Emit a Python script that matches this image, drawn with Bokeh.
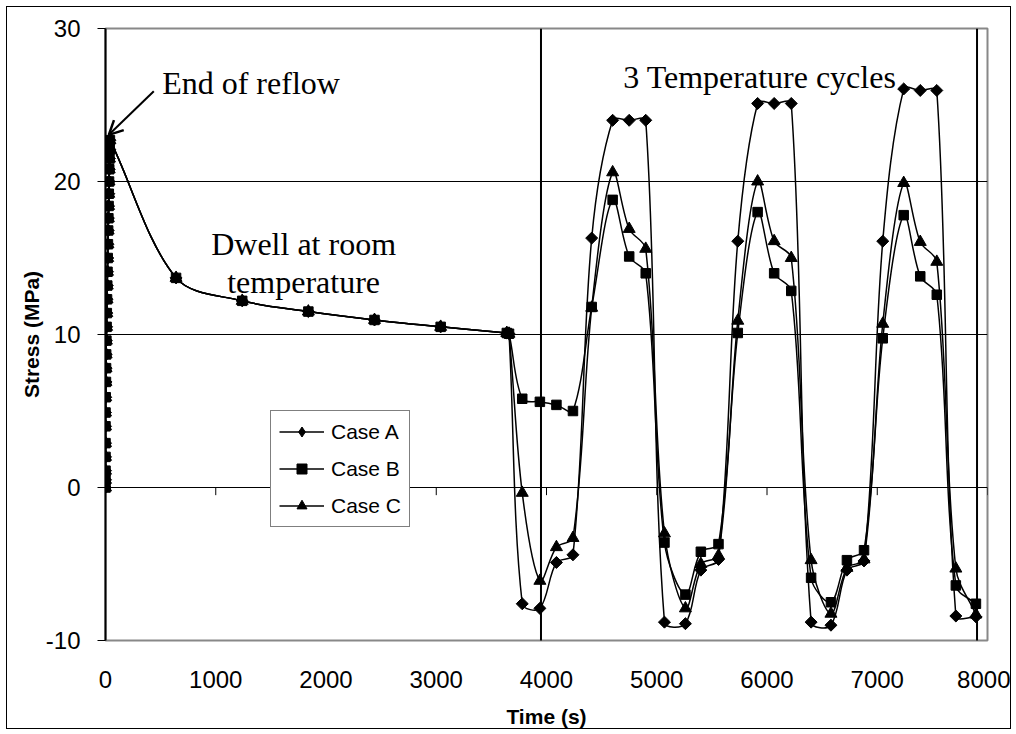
import numpy as np
from bokeh.plotting import figure
from bokeh.models import (Legend, LegendItem, Label, Arrow, OpenHead, FixedTicker,
                          ColumnDataSource, Range1d)
from bokeh.embed import file_html
from bokeh.resources import INLINE

# ---------------- data ----------------
reflow_time = [0, 0, 0, 0, 0, 0, 0, 2, 4, 5, 6, 8, 10, 12, 14, 16, 18, 20, 22, 24,
               26, 28, 30, 32, 34, 36, 38, 40]
reflow_stress = [0.0, 0.5, 1.1, 2.0, 2.9, 4.0, 4.9, 5.9, 6.9, 7.8, 8.7, 9.6, 10.5, 11.4,
                 12.3, 13.2, 14.1, 15.0, 15.9, 16.8, 17.6, 18.4, 19.2, 20.0, 20.8, 21.5,
                 22.1, 22.7]
dwell_time = [640, 1240, 1840, 2440, 3040, 3640, 3660]
dwell_stress = [13.7, 12.2, 11.5, 10.95, 10.5, 10.1, 10.05]
cycle_time = [3780, 3940, 4090, 4240, 4410, 4600, 4750, 4900,
              5070, 5260, 5400, 5560, 5735, 5915, 6065, 6220,
              6400, 6580, 6725, 6880, 7050, 7240, 7390, 7540,
              7713, 7895]
case_a_cycles = [-7.6, -7.9, -4.9, -4.4, 16.3, 24.0, 24.0, 24.0,
                 -8.8, -8.9, -5.4, -4.7, 16.1, 25.1, 25.1, 25.1,
                 -8.8, -9.0, -5.4, -4.8, 16.1, 26.05, 25.95, 25.95,
                 -8.4, -8.45]
case_b_cycles = [5.8, 5.6, 5.4, 5.0, 11.8, 18.8, 15.1, 14.0,
                 -3.6, -7.0, -4.2, -3.7, 10.1, 18.0, 14.0, 12.85,
                 -5.9, -7.5, -4.75, -4.1, 9.75, 17.8, 13.8, 12.6,
                 -6.4, -7.6]
case_c_cycles = [-0.35, -6.1, -3.9, -3.3, 11.75, 20.6, 16.9, 15.6,
                 -3.0, -7.9, -5.0, -4.45, 10.9, 20.0, 16.1, 15.0,
                 -4.75, -8.25, -5.25, -4.7, 10.7, 19.9, 16.05, 14.75,
                 -5.3, -8.3]
case_names = ["Case A", "Case B", "Case C"]
x_ticks = [0, 1000, 2000, 3000, 4000, 5000, 6000, 7000, 8000]
y_ticks = [-10, 0, 10, 20, 30]
y_tick_labels = ["-10", "0", "10", "20", "30"]
marker_lines = [3950, 7905]

time_s = reflow_time + dwell_time + cycle_time
series = [reflow_stress + dwell_stress + case_a_cycles,
          reflow_stress + dwell_stress + case_b_cycles,
          reflow_stress + dwell_stress + case_c_cycles]

# -------- smoothing (Excel-like smoothed line as Bezier segments) ---------
KX, KY = 0.1102, 15.33   # approx pixels per data unit, for distance weighting


def smooth(xs, ys):
    P = np.column_stack([np.asarray(xs, float) * KX, np.asarray(ys, float) * KY])
    n = len(P)
    out = {k: [] for k in ["x0", "y0", "x1", "y1", "cx0", "cy0", "cx1", "cy1"]}
    for i in range(n - 1):
        p0, p1 = P[i], P[i + 1]
        pm = P[i - 1] if i > 0 else p0
        pp = P[i + 2] if i + 2 < n else p1
        d01 = np.linalg.norm(p1 - p0)
        dm0 = np.linalg.norm(p0 - pm)
        d12 = np.linalg.norm(pp - p1)
        c0 = p0 + (p1 - pm) * (d01 / (dm0 + d01) / 3.0 if dm0 + d01 > 0 else 0)
        c1 = p1 - (pp - p0) * (d01 / (d01 + d12) / 3.0 if d01 + d12 > 0 else 0)
        out["x0"].append(p0[0] / KX); out["y0"].append(p0[1] / KY)
        out["x1"].append(p1[0] / KX); out["y1"].append(p1[1] / KY)
        out["cx0"].append(c0[0] / KX); out["cy0"].append(c0[1] / KY)
        out["cx1"].append(c1[0] / KX); out["cy1"].append(c1[1] / KY)
    return ColumnDataSource(out)


# ---------------- figure ----------------
p = figure(width=1005, height=723, output_backend="svg", toolbar_location=None,
           x_range=Range1d(0, 8000), y_range=Range1d(-10, 30),
           min_border_left=98, min_border_top=21, min_border_right=25,
           min_border_bottom=90)
p.styles = {"border": "1px solid black", "margin-left": "6px", "margin-top": "6px"}
p.background_fill_color = "white"
p.border_fill_color = "white"
p.outline_line_color = "#888888"
p.outline_line_width = 2

p.xgrid.visible = False
p.ygrid.ticker = FixedTicker(ticks=[0, 10, 20])
p.ygrid.grid_line_color = "black"
p.ygrid.grid_line_width = 1

font = "Liberation Sans"
p.xaxis.ticker = FixedTicker(ticks=x_ticks)
p.yaxis.ticker = FixedTicker(ticks=y_ticks)
p.yaxis.major_label_overrides = dict(zip(y_ticks, y_tick_labels))
p.xaxis.axis_line_color = None
p.xaxis.major_tick_out = 0
p.xaxis.major_tick_in = 0
p.xaxis.minor_tick_line_color = None
p.yaxis.minor_tick_line_color = None
p.yaxis.axis_line_color = "black"
p.yaxis.axis_line_width = 2
p.yaxis.major_tick_out = 8
p.yaxis.major_tick_in = 0
p.yaxis.major_tick_line_color = "black"
for ax in (p.xaxis, p.yaxis):
    ax.major_label_text_font = font
    ax.major_label_text_font_size = "24px"
    ax.major_label_text_color = "black"
    ax.axis_label_text_font = font
    ax.axis_label_text_font_size = "21px"
    ax.axis_label_text_font_style = "bold"
    ax.axis_label_text_color = "black"
p.xaxis.major_label_standoff = 30
p.yaxis.major_label_standoff = 17
p.xaxis.axis_label = "Time (s)"
p.yaxis.axis_label = "Stress (MPa)"
p.xaxis.axis_label_standoff = 14
p.yaxis.axis_label_standoff = 0

# x-axis ticks on the zero line
p.segment(x0=x_ticks[1:], y0=[0] * (len(x_ticks) - 1), x1=x_ticks[1:],
          y1=[-0.5] * (len(x_ticks) - 1), line_color="black", line_width=1)

# vertical marker lines (extend slightly below plot area)
for xv in marker_lines:
    p.add_layout(Arrow(end=None, x_start=xv, y_start=30, x_end=xv, y_end=-10.5,
                       line_color="black", line_width=2))

markers = [dict(marker="square", angle=np.pi / 4, size=8.5),
           dict(marker="square", angle=0, size=9.5),
           dict(marker="triangle", angle=0, size=12)]
items = []
for k, (name, ys, mk) in enumerate(zip(case_names, series, markers)):
    src = smooth(time_s, ys)
    bz = p.bezier(x0="x0", y0="y0", x1="x1", y1="y1", cx0="cx0", cy0="cy0",
                  cx1="cx1", cy1="cy1", source=src, line_color="black", line_width=1.5)
    sc = p.scatter(time_s, ys, marker=mk["marker"], angle=mk["angle"], size=mk["size"],
                   fill_color="black", line_color="black", line_width=1)
    if k == 0:
        # legend key: diamond symbol (legend ignores marker rotation)
        sc = p.scatter(time_s[:1], ys[:1], marker="diamond", size=10,
                       fill_color="black", line_color="black", line_width=1)
    items.append(LegendItem(label=name, renderers=[bz, sc], index=0))

legend = Legend(items=items, location=(165, 113), margin=0, padding=8,
                glyph_width=45, glyph_height=25, label_height=25, spacing=12,
                label_standoff=7, label_text_font=font, label_text_font_size="21px",
                label_text_color="black",
                border_line_color="black", border_line_width=1,
                background_fill_color="white", background_fill_alpha=1)
p.add_layout(legend)

serif = "Liberation Serif"
for txt, xv, yv, align in [("End of reflow", 514, 26.42, "left"),
                           ("3 Temperature cycles", 5935, 26.8, "center"),
                           ("Dwell at room", 1797, 15.9, "center"),
                           ("temperature", 1797, 13.45, "center")]:
    p.add_layout(Label(x=xv, y=yv, text=txt, text_font=serif, text_font_size="32px",
                       text_align=align, text_baseline="alphabetic", text_color="black"))

p.add_layout(Arrow(end=OpenHead(size=14, line_width=2.5, line_color="black"),
                   x_start=438, y_start=25.9, x_end=30, y_end=23.05,
                   line_color="black", line_width=2))

open("out.html", "w").write(file_html(p, INLINE))
